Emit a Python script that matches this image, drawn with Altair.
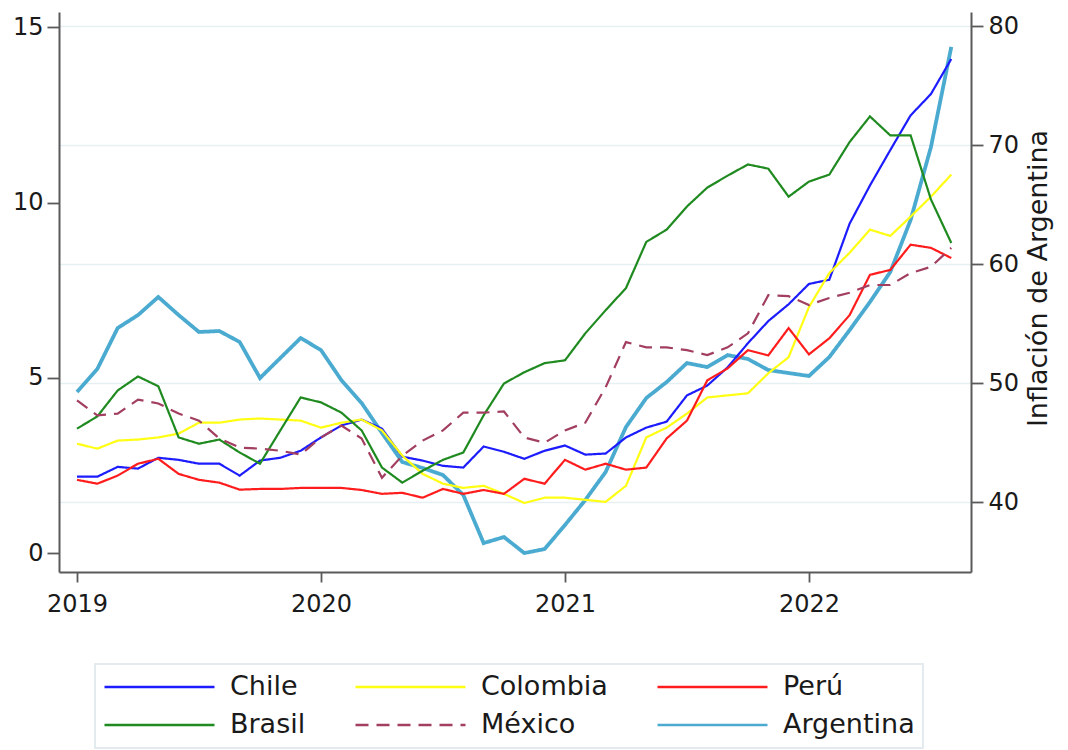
import altair as alt
import pandas as pd

FONT = "DejaVu Sans"

meses = [
    "2019-01", "2019-02", "2019-03", "2019-04", "2019-05", "2019-06",
    "2019-07", "2019-08", "2019-09", "2019-10", "2019-11", "2019-12",
    "2020-01", "2020-02", "2020-03", "2020-04", "2020-05", "2020-06",
    "2020-07", "2020-08", "2020-09", "2020-10", "2020-11", "2020-12",
    "2021-01", "2021-02", "2021-03", "2021-04", "2021-05", "2021-06",
    "2021-07", "2021-08", "2021-09", "2021-10", "2021-11", "2021-12",
    "2022-01", "2022-02", "2022-03", "2022-04", "2022-05", "2022-06",
    "2022-07", "2022-08",
]

chile = [2.18, 2.18, 2.46, 2.41, 2.72, 2.66, 2.55, 2.55, 2.21, 2.64, 2.72, 2.92,
         3.30, 3.64, 3.81, 3.55, 2.75, 2.64, 2.49, 2.44, 3.04, 2.89, 2.69, 2.92,
         3.07, 2.81, 2.84, 3.30, 3.58, 3.75, 4.50, 4.78, 5.30, 5.99, 6.62, 7.10,
         7.68, 7.80, 9.40, 10.49, 11.50, 12.49, 13.10, 14.10]
colombia = [3.12, 2.98, 3.21, 3.24, 3.30, 3.41, 3.72, 3.72, 3.81, 3.84, 3.81, 3.78,
            3.58, 3.72, 3.81, 3.50, 2.78, 2.26, 1.98, 1.86, 1.92, 1.69, 1.43, 1.58,
            1.58, 1.52, 1.46, 1.92, 3.30, 3.58, 3.98, 4.44, 4.50, 4.56, 5.13, 5.59,
            7.02, 7.99, 8.57, 9.23, 9.05, 9.60, 10.17, 10.80]
peru = [2.09, 1.98, 2.21, 2.55, 2.69, 2.26, 2.09, 2.01, 1.81, 1.83, 1.83, 1.86,
        1.86, 1.86, 1.80, 1.69, 1.72, 1.58, 1.83, 1.69, 1.80, 1.69, 2.12, 1.98,
        2.66, 2.38, 2.55, 2.38, 2.44, 3.27, 3.78, 4.93, 5.27, 5.79, 5.64, 6.42,
        5.67, 6.13, 6.79, 7.94, 8.08, 8.80, 8.71, 8.42]
brasil = [3.55, 3.90, 4.64, 5.04, 4.76, 3.30, 3.12, 3.24, 2.87, 2.55, 3.50, 4.44,
          4.30, 4.01, 3.50, 2.44, 2.01, 2.35, 2.66, 2.87, 3.93, 4.84, 5.16, 5.42,
          5.50, 6.27, 6.93, 7.56, 8.88, 9.23, 9.89, 10.43, 10.77, 11.09, 10.97, 10.17,
          10.60, 10.80, 11.73, 12.46, 11.92, 11.92, 10.09, 8.85]
mexico = [4.36, 3.93, 3.98, 4.38, 4.27, 3.98, 3.78, 3.27, 3.01, 2.98, 2.92, 2.81,
          3.30, 3.64, 3.27, 2.15, 2.78, 3.21, 3.50, 4.01, 4.01, 4.04, 3.30, 3.15,
          3.50, 3.72, 4.73, 6.02, 5.87, 5.87, 5.79, 5.65, 5.87, 6.27, 7.36, 7.33,
          7.08, 7.28, 7.43, 7.65, 7.65, 7.99, 8.17, 8.71]
argentina = [49.24, 51.18, 54.62, 55.71, 57.23, 55.71, 54.29, 54.37, 53.45, 50.42, 52.10, 53.78,
             52.77, 50.25, 48.32, 45.80, 43.36, 42.86, 42.27, 40.59, 36.55, 37.06, 35.71, 36.05,
             38.07, 40.17, 42.52, 46.30, 48.74, 50.08, 51.68, 51.34, 52.35, 52.02, 51.09, 50.84,
             50.59, 52.18, 54.45, 56.81, 59.33, 63.70, 69.83, 78.24]

paises = ["Chile", "Colombia", "Perú", "Brasil", "México", "Argentina"]
colores = ["#1c1cff", "#ffff14", "#ff1c1c", "#1f8a1f", "#a23f60", "#4aaad0"]
guiones = [[1, 0], [1, 0], [1, 0], [1, 0], [13, 8], [1, 0]]
x_ticks = [0, 12, 24, 36]
y_left_ticks = [0, 5, 10, 15]
y_right_ticks = [40, 50, 60, 70, 80]


def idx(m):
    y, mo = m.split("-")
    return (int(y) - 2019) * 12 + int(mo) - 1


series_izq = {"Chile": chile, "Colombia": colombia, "Perú": peru,
              "Brasil": brasil, "México": mexico}
rows = []
for p, vals in series_izq.items():
    for m, v in zip(meses, vals):
        rows.append({"t": idx(m), "pais": p, "valor": v})
df_izq = pd.DataFrame(rows)
df_arg = pd.DataFrame({"t": [idx(m) for m in meses], "pais": "Argentina", "valor": argentina})

legend = alt.Legend(
    title=None, orient="none", legendX=36, legendY=652, direction="horizontal",
    columns=3, symbolType="stroke", symbolSize=12100, symbolStrokeWidth=2.6,
    clipHeight=30, labelFontSize=27, labelFont=FONT, labelColor="#1a1a1a",
    labelOffset=14, labelLimit=400, columnPadding=48, rowPadding=8, padding=8,
    strokeColor="#e3ebee", fillColor="white",
)

color = alt.Color("pais:N", scale=alt.Scale(domain=paises, range=colores), legend=legend)
dash = alt.StrokeDash("pais:N", scale=alt.Scale(domain=paises, range=guiones), legend=legend)

x_enc = alt.X(
    "t:Q",
    scale=alt.Scale(domain=[-0.885, 43.97], nice=False, zero=False),
    axis=alt.Axis(values=x_ticks, labelExpr="toString(2019 + datum.value / 12)",
                  title=None, grid=False, tickSize=10, labelPadding=10),
)

izq = alt.Chart(df_izq).mark_line(strokeWidth=2.2).encode(
    x=x_enc,
    y=alt.Y("valor:Q", scale=alt.Scale(domain=[-0.54, 15.44], nice=False, zero=False),
            axis=alt.Axis(orient="left", values=y_left_ticks, title=None, grid=False,
                          tickSize=12, labelPadding=4)),
    color=color,
    strokeDash=dash,
    order="t:Q",
)

der = alt.Chart(df_arg).mark_line(strokeWidth=3.8).encode(
    x=x_enc,
    y=alt.Y("valor:Q", scale=alt.Scale(domain=[34.12, 81.18], nice=False, zero=False),
            axis=alt.Axis(orient="right", values=y_right_ticks, title="Inflación de Argentina",
                          grid=True, gridColor="#e6eff2", gridWidth=1.5, tickSize=12,
                          labelPadding=5, titleAngle=270, titleBaseline="top",
                          titlePadding=7, titleFontSize=27, titleFontWeight="normal",
                          titleY=266, titleFont=FONT, titleColor="#1a1a1a")),
    color=color,
    strokeDash=dash,
    order="t:Q",
)

chart = alt.layer(der, izq).resolve_scale(y="independent").properties(
    width=912, height=560,
    autosize=alt.AutoSizeParams(type="none"),
    padding={"left": 51, "top": 4, "right": 89, "bottom": 178},
).configure_view(stroke=None).configure_axis(
    labelFont=FONT, labelFontSize=24, labelColor="#1a1a1a",
    domainColor="#5a5a5a", domainWidth=2, tickColor="#5a5a5a", tickWidth=1.8,
).configure_legend(strokeWidth=2)

chart.save("out.html", embed_options={"renderer": "svg", "actions": False})
